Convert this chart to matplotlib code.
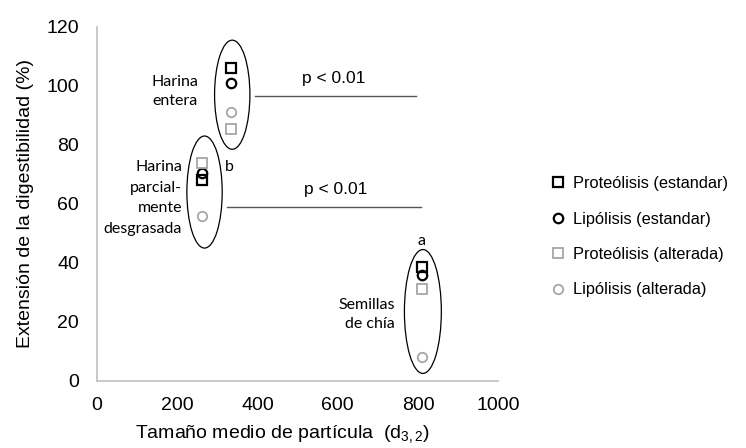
import matplotlib
matplotlib.use("Agg")
import matplotlib.pyplot as plt
from matplotlib.patches import Ellipse

plt.rcParams['font.family'] = ['Liberation Sans', 'DejaVu Sans']

# Data
groups = ["Harina entera", "Harina parcialmente desgrasada", "Semillas de chía"]
x_size = [334, 262, 810]
prot_std = [106, 68, 38.5]
lip_std = [101, 70.5, 36]
prot_alt = [85.5, 74, 31]
lip_alt = [91, 56, 8]

series_names = ["Proteólisis (estandar)", "Lipólisis (estandar)",
                "Proteólisis (alterada)", "Lipólisis (alterada)"]

fig = plt.figure(figsize=(7.46, 4.48), dpi=100)
ax = fig.add_axes([0.130, 0.150, 0.538, 0.790])

gray = "#A6A6A6"
h1, = ax.plot(x_size, prot_std, ls='none', marker='s', ms=7, mfc='none', mec='black', mew=1.6)
h2, = ax.plot(x_size, lip_std, ls='none', marker='o', ms=6.8, mfc='none', mec='black', mew=1.6)
h3, = ax.plot(x_size, prot_alt, ls='none', marker='s', ms=7, mfc='none', mec=gray, mew=1.3)
h4, = ax.plot(x_size, lip_alt, ls='none', marker='o', ms=6.8, mfc='none', mec=gray, mew=1.3)

ax.set_xlim(0, 1000)
ax.set_ylim(0, 120)
ax.set_xticks(range(0, 1001, 200))
ax.set_yticks(range(0, 121, 20))
for s in ['top', 'right']:
    ax.spines[s].set_visible(False)
for s in ['left', 'bottom']:
    ax.spines[s].set_color('#BFBFBF')
    ax.spines[s].set_linewidth(1.2)
ax.tick_params(length=0, labelsize=14)
ax.tick_params(axis='y', pad=13)
ax.tick_params(axis='x', pad=12)

ax.set_ylabel("Extensión de la digestibilidad (%)", fontsize=14, labelpad=9)
ax.set_xlabel(r"Tamaño medio de partícula  (d$_{\mathregular{3,2}}$)", fontsize=14, labelpad=8)
ax.xaxis.set_label_coords(0.462, -0.122)

# Ellipses
for cx, cy, w, h in [(337, 97, 88, 37), (268, 64, 88, 38), (812, 23.5, 92, 42)]:
    ax.add_patch(Ellipse((cx, cy), w, h, fill=False, ec='black', lw=0.9))

# Significance lines
ax.plot([394, 796], [96.6, 96.6], color='#555555', lw=1.0)
ax.plot([324, 808], [59, 59], color='#555555', lw=1.0)
ax.text(590, 102.5, "p < 0.01", ha='center', va='center', fontsize=12.5)
ax.text(595, 65, "p < 0.01", ha='center', va='center', fontsize=12.5)

afont = dict(family=['Lato', 'DejaVu Sans'], fontsize=11.5)
ax.text(252, 98.2, "Harina\nentera", ha='right', va='center', linespacing=1.45, **afont)
ax.text(212, 62, "Harina\nparcial-\nmente\ndesgrasada", ha='right', va='center', linespacing=1.6, **afont)
ax.text(743, 22.5, "Semillas\nde chía", ha='right', va='center', linespacing=1.4, **afont)
ax.text(808, 47.5, "a", ha='center', va='center', **afont)
ax.text(330, 72.5, "b", ha='center', va='center', **afont)

fig.legend([h1, h2, h3, h4], series_names, loc='upper left',
           bbox_to_anchor=(0.718, 0.64), frameon=False, fontsize=11.8,
           handletextpad=0.5, labelspacing=1.25, handlelength=0.9)

fig.savefig("out.png", dpi=100)
